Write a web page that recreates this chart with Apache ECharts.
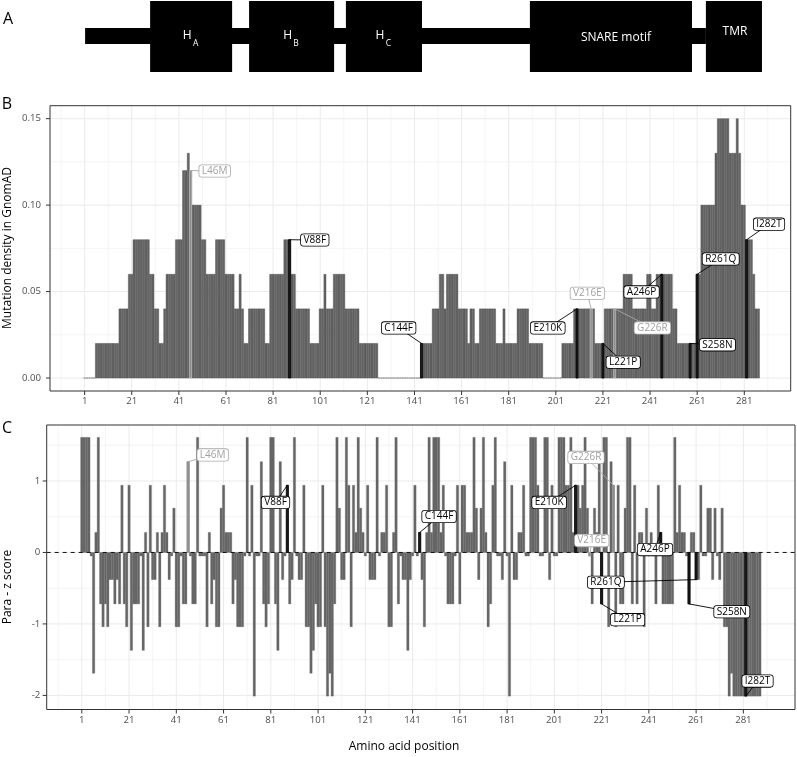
<!DOCTYPE html>
<html>
<head>
<meta charset="utf-8">
<script src="https://cdn.jsdelivr.net/npm/echarts@6/dist/echarts.min.js"></script>
<style>
html,body{margin:0;padding:0;background:#ffffff;}
#chart{width:797px;height:757px;}
</style>
</head>
<body>
<div id="chart"></div>
<script>
// ================= DATA =================
// Panel B: mutation density in GnomAD, amino acid positions 1..287 (rows of 10)
const densityB = [
  0,0,0,0,0,0.02,0.02,0.02,0.02,0.02,
  0.02,0.02,0.02,0.02,0.02,0.04,0.04,0.04,0.04,0.06,
  0.06,0.08,0.08,0.08,0.08,0.08,0.08,0.08,0.06,0.06,
  0.04,0.04,0.02,0.02,0.04,0.06,0.06,0.06,0.06,0.08,
  0.08,0.08,0.12,0.12,0.13,0.12,0.10,0.10,0.10,0.10,
  0.08,0.08,0.06,0.06,0.06,0.06,0.08,0.08,0.08,0.08,
  0.06,0.06,0.06,0.06,0.04,0.04,0.06,0.04,0.02,0.02,
  0.04,0.04,0.04,0.04,0.04,0.04,0.04,0.02,0.02,0.06,
  0.06,0.06,0.06,0.06,0.06,0.08,0.08,0.08,0.06,0.06,
  0.04,0.04,0.04,0.04,0.04,0.04,0.02,0.02,0.02,0.02,
  0.04,0.04,0.06,0.04,0.04,0.04,0.06,0.06,0.06,0.06,
  0.06,0.04,0.04,0.04,0.04,0.04,0.04,0.02,0.02,0.02,
  0.02,0.02,0.02,0.02,0.02,0,0,0,0,0,
  0,0,0,0,0,0,0,0,0,0,
  0,0,0,0.02,0.02,0.02,0.02,0.02,0.04,0.04,
  0.04,0.06,0.06,0.04,0.06,0.06,0.06,0.06,0.06,0.04,
  0.04,0.04,0.04,0.02,0.04,0.04,0.02,0.02,0.04,0.04,
  0.04,0.04,0.04,0.04,0.04,0.02,0.02,0.02,0.04,0.02,
  0.02,0.02,0.02,0.02,0.04,0.04,0.04,0.04,0.04,0.02,
  0.02,0.02,0.02,0.02,0.02,0,0,0,0,0,
  0,0,0,0.02,0.02,0.02,0.02,0.02,0.04,0.04,
  0.04,0.04,0.04,0.04,0.04,0.04,0.04,0.02,0.02,0.02,
  0.02,0.04,0.04,0.04,0.04,0.04,0.04,0.04,0.04,0.06,
  0.06,0.06,0.06,0.04,0.04,0.04,0.04,0.04,0.04,0.06,
  0.06,0.04,0.04,0.06,0.06,0.06,0.06,0.06,0.06,0.06,
  0.04,0.04,0.02,0.02,0.02,0.02,0.02,0.02,0.02,0.02,
  0.06,0.06,0.10,0.10,0.10,0.10,0.10,0.10,0.13,0.15,
  0.15,0.15,0.15,0.15,0.13,0.13,0.13,0.15,0.13,0.10,
  0.10,0.08,0.08,0.08,0.06,0.04,0.04
];

// Panel C: Para-z score, positions 1..288 (rows of 10)
const zScoreC = [
  1.61,1.61,1.61,1.61,-0.05,-1.69,0.28,1.61,-0.72,-1.04,
  -0.72,-1.04,-0.38,-0.38,-0.72,-0.38,-0.72,0.94,-0.72,-1.04,
  0.94,-1.37,-0.72,-0.72,-0.72,-0.05,-1.37,0.28,-1.04,0.94,
  -0.38,-0.38,0.28,-1.04,0.28,0.94,0.28,-0.38,-0.05,0.62,
  -1.04,-1.04,-0.05,-0.72,-0.72,1.27,-0.05,-0.72,-0.72,1.61,
  -0.05,-0.05,-0.05,-1.04,0.28,-0.72,-0.38,-1.04,-1.04,0.62,
  0.94,0.28,0.28,0.28,-0.72,-0.38,-1.04,-1.04,-1.04,-0.05,
  1.61,-0.05,0.94,-2.01,-0.05,-0.05,1.27,-0.72,-1.04,-0.72,
  1.61,1.61,-0.72,-1.37,1.27,-0.38,-0.05,0.94,-0.72,-0.38,
  1.61,-0.05,-0.38,-0.38,0.94,-1.04,-1.04,-1.69,-1.37,-0.72,
  -1.04,-1.04,0.94,-1.04,-2.01,-1.69,-2.01,-0.72,1.61,0.62,
  -0.38,-0.38,1.61,0.94,-1.04,0.94,0.28,1.61,0.62,0.28,
  -0.05,0.94,-0.38,-0.38,-0.38,1.61,-0.05,0.28,0.28,0.94,
  -1.04,-1.04,0.28,1.61,-0.72,-0.05,-0.38,-0.38,-1.37,-0.38,
  -0.05,0.94,-0.05,0.28,-0.38,-1.04,0.28,1.61,0.28,1.61,
  1.61,1.61,0.28,0.94,-0.05,-0.72,-0.72,-0.72,-0.05,0.94,
  -0.72,0.94,0.94,0.28,0.28,0.28,1.61,0.62,-0.38,0.62,
  1.61,0.28,-1.04,-0.72,0.94,1.61,-0.05,-0.05,-0.38,1.27,
  -0.05,-2.01,0.94,-0.38,-0.38,0.28,0.28,0.94,-0.05,-0.05,
  1.61,1.61,1.61,0.94,-0.05,-0.05,1.61,1.61,-0.38,0.94,
  -0.05,-0.05,1.61,1.61,1.61,0.94,0.94,1.61,0.28,0.94,
  0.94,0.62,0.94,1.61,0.62,-0.05,-0.72,0.62,0.28,1.27,
  -0.72,1.61,1.61,-1.04,1.27,0.94,-1.04,0.94,-0.72,-0.72,
  0.62,1.61,1.61,-0.72,0.94,-0.72,0.28,0.28,-1.04,0.62,
  -0.05,0.28,-0.05,-0.72,0.94,0.28,-0.72,-0.72,-0.72,-0.72,
  -0.72,1.61,0.28,0.94,0.28,0.28,-0.05,-0.72,0.28,0.28,
  -0.38,-0.38,0.94,-0.05,-0.05,0.62,0.62,-0.38,0.62,-0.05,
  -0.38,0.62,-1.04,-1.04,-2.01,-1.69,-2.01,-2.01,-2.01,-2.01,
  -2.01,-2.01,-2.01,-2.01,-2.01,-2.01,-2.01,-2.01
];

// Axis ticks
const xTickValues = [1,21,41,61,81,101,121,141,161,181,201,221,241,261,281];
const xTickLabels = ['1','21','41','61','81','101','121','141','161','181','201','221','241','261','281'];
const xMinorValues = [-9,11,31,51,71,91,111,131,151,171,191,211,231,251,271,291];
const yTickValuesB = [0, 0.05, 0.10, 0.15];
const yTickLabelsB = ['0.00','0.05','0.10','0.15'];
const yMinorValuesB = [0.025, 0.075, 0.125];
const yTickValuesC = [-2, -1, 0, 1];
const yTickLabelsC = ['-2','-1','0','1'];
const yMinorValuesC = [-1.5, -0.5, 0.5, 1.5];

// Highlighted variants
const variantNames = ['L46M','V88F','C144F','E210K','V216E','L221P','G226R','A246P','S258N','R261Q','I282T'];
const variantPos   = [46, 88, 144, 210, 216, 221, 226, 246, 258, 261, 282];
const variantGrey  = [true,false,false,false,true,false,true,false,false,false,false];
// label anchor positions (data coordinates) in panel B and C
const labelBx = [56.2, 98.7, 134.3, 197.6, 214.4, 229.6, 242.0, 237.4, 269.6, 271.0, 291.5];
const labelBy = [0.1197, 0.0798, 0.029, 0.029, 0.049, 0.0091, 0.029, 0.0498, 0.0192, 0.0688, 0.089];
const labelCx = [56.4, 83.0, 152.2, 198.8, 216.8, 232.0, 214.4, 243.6, 276.1, 222.8, 287.0];
const labelCy = [1.365, 0.70, 0.503, 0.70, 0.166, -0.94, 1.33, 0.04, -0.83, -0.416, -1.80];

// Panel A: domains (amino acid boundaries)
const domainNames = ['H', 'H', 'H', 'SNARE motif', 'TMR'];
const domainSubscripts = ['A', 'B', 'C', '', ''];
const domainStart = [28.8, 70.8, 111.9, 190.0, 264.7];
const domainEnd   = [63.6, 106.9, 144.2, 258.8, 288.5];
const backboneStart = 1.2;
const backboneEnd = 264.7;

// ================= LAYOUT =================
const FONT = '"Open Sans", "Noto Sans", sans-serif';
const grids = [
  {left: 50, top: 1, width: 740.7, height: 71},
  {left: 50, top: 105.7, width: 740.7, height: 285.3},
  {left: 46.7, top: 425, width: 748.3, height: 284.5}
];
const xRanges = [[-13.7, 300.7], [-13.7, 300.7], [-13.85, 302.85]];
const yRanges = [[0, 1], [-0.0075, 0.1575], [-2.197, 1.783]];

function txt(x, y, text, size, fill, align, valign, extra) {
  const st = Object.assign({
    text: text, fill: fill, font: size + 'px ' + FONT,
    align: align, verticalAlign: valign,
    textAlign: align, textVerticalAlign: valign
  }, extra || {});
  return {type: 'text', x: x, y: y, style: st};
}

// grid lines (under bars)
function gridLinesSeries(gi, xMaj, xMin, yMaj, yMin) {
  const items = [];
  xMaj.forEach(v => items.push({k: 'x', v: v, w: 1}));
  xMin.forEach(v => items.push({k: 'x', v: v, w: 0.55}));
  yMaj.forEach(v => items.push({k: 'y', v: v, w: 1}));
  yMin.forEach(v => items.push({k: 'y', v: v, w: 0.55}));
  return {
    type: 'custom', xAxisIndex: gi, yAxisIndex: gi, silent: true, z: 1,
    data: items.map(() => [0, 0]),
    renderItem: function (params, api) {
      const it = items[params.dataIndex];
      const cs = params.coordSys;
      if (it.k === 'x') {
        const x = api.coord([it.v, 0])[0];
        if (x < cs.x || x > cs.x + cs.width) return null;
        return {type: 'line', shape: {x1: x, y1: cs.y, x2: x, y2: cs.y + cs.height},
                style: {stroke: '#ebebeb', lineWidth: it.w}};
      }
      const y = api.coord([0, it.v])[1];
      return {type: 'line', shape: {x1: cs.x, y1: y, x2: cs.x + cs.width, y2: y},
              style: {stroke: '#ebebeb', lineWidth: it.w}};
    }
  };
}

// ticks, tick labels and panel border (on top)
function axisMarksSeries(gi, xv, xl, yv, yl, yGap) {
  const items = [];
  xv.forEach((v, i) => items.push({k: 'x', v: v, t: xl[i]}));
  yv.forEach((v, i) => items.push({k: 'y', v: v, t: yl[i]}));
  items.push({k: 'border'});
  return {
    type: 'custom', xAxisIndex: gi, yAxisIndex: gi, silent: true, z: 8, clip: false,
    data: items.map(() => [0, 0]),
    renderItem: function (params, api) {
      const it = items[params.dataIndex];
      const cs = params.coordSys;
      if (it.k === 'border') {
        return {type: 'rect', shape: {x: cs.x, y: cs.y, width: cs.width, height: cs.height},
                style: {fill: 'none', stroke: '#333333', lineWidth: 1}};
      }
      if (it.k === 'x') {
        const x = api.coord([it.v, 0])[0];
        const b = cs.y + cs.height;
        return {type: 'group', children: [
          {type: 'line', shape: {x1: x, y1: b, x2: x, y2: b + 4}, style: {stroke: '#333333', lineWidth: 1}},
          txt(x, b + 5.5, it.t, 9.6, '#4d4d4d', 'center', 'top')
        ]};
      }
      const y = api.coord([0, it.v])[1];
      return {type: 'group', children: [
        {type: 'line', shape: {x1: cs.x - 4, y1: y, x2: cs.x, y2: y}, style: {stroke: '#333333', lineWidth: 1}},
        txt(cs.x - yGap, y, it.t, 9.6, '#4d4d4d', 'right', 'middle')
      ]};
    }
  };
}

function barsSeries(gi, values, halfW, fill, stroke, lw) {
  return {
    type: 'custom', xAxisIndex: gi, yAxisIndex: gi, silent: true, z: 3,
    data: values.map((v, i) => [i + 1, v]),
    renderItem: function (params, api) {
      const p = api.value(0), v = api.value(1);
      const a = api.coord([p - halfW, v]);
      const b = api.coord([p + halfW, 0]);
      const style = {fill: fill};
      if (stroke) { style.stroke = stroke; style.lineWidth = lw; }
      return {type: 'rect', shape: {x: a[0], y: Math.min(a[1], b[1]), width: b[0] - a[0], height: Math.abs(b[1] - a[1])}, style: style};
    }
  };
}

function highlightSeries(gi, values, greyFill, greyStroke, blackFill) {
  return {
    type: 'custom', xAxisIndex: gi, yAxisIndex: gi, silent: true, z: 4,
    data: variantPos.map(p => [p, values[p - 1]]),
    renderItem: function (params, api) {
      const i = params.dataIndex;
      const p = api.value(0), v = api.value(1);
      const a = api.coord([p - 0.45, v]);
      const b = api.coord([p + 0.45, 0]);
      const g = variantGrey[i];
      return {type: 'rect', shape: {x: a[0], y: Math.min(a[1], b[1]), width: b[0] - a[0], height: Math.abs(b[1] - a[1])},
              style: {fill: g ? greyFill : blackFill, stroke: g ? greyStroke : '#000000', lineWidth: 0.7}};
    }
  };
}

function labelsSeries(gi, values, lx, ly) {
  return {
    type: 'custom', xAxisIndex: gi, yAxisIndex: gi, silent: true, z: 7, clip: false,
    data: variantNames.map(() => [0, 0]),
    renderItem: function (params, api) {
      const i = params.dataIndex;
      const p = variantPos[i];
      const a = api.coord([p, values[p - 1]]);
      const c = api.coord([lx[i], ly[i]]);
      const col = variantGrey[i] ? '#a8a8a8' : '#000000';
      const tcol = variantGrey[i] ? '#a0a0a0' : '#000000';
      return {type: 'group', children: [
        {type: 'line', shape: {x1: a[0], y1: a[1], x2: c[0], y2: c[1]}, style: {stroke: col, lineWidth: 0.9}},
        txt(c[0], c[1], variantNames[i], 10, tcol, 'center', 'middle', {
          backgroundColor: '#ffffff', borderColor: col, borderWidth: 0.8, borderRadius: 2.5,
          padding: [1, 2.5, 0.5, 2.5]
        })
      ]};
    }
  };
}

const zeroLineSeries = {
  type: 'custom', xAxisIndex: 2, yAxisIndex: 2, silent: true, z: 5,
  data: [[0, 0]],
  renderItem: function (params, api) {
    const cs = params.coordSys;
    const y = api.coord([0, 0])[1];
    return {type: 'line', shape: {x1: cs.x, y1: y, x2: cs.x + cs.width, y2: y},
            style: {stroke: '#111111', lineWidth: 1, lineDash: [4, 4]}};
  }
};

const domainSeries = {
  type: 'custom', xAxisIndex: 0, yAxisIndex: 0, silent: true, z: 3, clip: false,
  data: [[0, 0]].concat(domainNames.map(() => [0, 0])),
  renderItem: function (params, api) {
    const i = params.dataIndex;
    if (i === 0) {
      const x1 = api.coord([backboneStart, 0])[0], x2 = api.coord([backboneEnd, 0])[0];
      const y1 = api.coord([0, 0.62])[1], y2 = api.coord([0, 0.394])[1];
      return {type: 'rect', shape: {x: x1, y: y1, width: x2 - x1, height: y2 - y1}, style: {fill: '#000000'}};
    }
    const d = i - 1;
    const x1 = api.coord([domainStart[d], 1])[0], x2 = api.coord([domainEnd[d], 1])[0];
    const top = api.coord([0, 1])[1], bot = api.coord([0, 0])[1];
    const cx = (x1 + x2) / 2;
    const children = [{type: 'rect', shape: {x: x1, y: top, width: x2 - x1, height: bot - top}, style: {fill: '#000000'}}];
    if (domainSubscripts[d]) {
      children.push(txt(cx - 4, top + 35, domainNames[d], 12, '#ffffff', 'center', 'middle'));
      children.push(txt(cx + 4.5, top + 42.5, domainSubscripts[d], 8.5, '#ffffff', 'center', 'middle'));
    } else if (d === 3) {
      children.push(txt(cx + 5, top + 37, domainNames[d], 12, '#ffffff', 'center', 'middle'));
    } else {
      children.push(txt(cx + 1, top + 31, domainNames[d], 12, '#ffffff', 'center', 'middle'));
    }
    return {type: 'group', children: children};
  }
};

const chart = echarts.init(document.getElementById('chart'), null, {renderer: 'canvas', width: 797, height: 757});

const option = {
  animation: false,
  backgroundColor: '#ffffff',
  grid: grids.map(g => Object.assign({containLabel: false, show: false}, g)),
  xAxis: grids.map((g, i) => ({gridIndex: i, type: 'value', min: xRanges[i][0], max: xRanges[i][1], show: false})),
  yAxis: grids.map((g, i) => ({gridIndex: i, type: 'value', min: yRanges[i][0], max: yRanges[i][1], show: false})),
  graphic: [
    txt(8, 19, 'A', 16, '#000000', 'center', 'middle'),
    txt(7, 104, 'B', 16, '#000000', 'center', 'middle'),
    txt(7, 428, 'C', 16, '#000000', 'center', 'middle'),
    Object.assign(txt(8, 248, 'Mutation density in GnomAD', 12, '#000000', 'center', 'middle'), {rotation: Math.PI / 2}),
    Object.assign(txt(8, 587, 'Para - z score', 12, '#000000', 'center', 'middle'), {rotation: Math.PI / 2}),
    txt(404, 747, 'Amino acid position', 12, '#000000', 'center', 'middle')
  ],
  series: [
    domainSeries,
    gridLinesSeries(1, xTickValues, xMinorValues, yTickValuesB, yMinorValuesB),
    gridLinesSeries(2, xTickValues, xMinorValues, yTickValuesC, yMinorValuesC),
    barsSeries(1, densityB, 0.45, '#656565', '#4a4a4a', 0.4),
    barsSeries(2, zScoreC, 0.5, '#666666', '#666666', 0.3),
    highlightSeries(1, densityB, '#8c8c8c', '#c4c4c4', '#1a1a1a'),
    highlightSeries(2, zScoreC, '#8c8c8c', '#a0a0a0', '#1a1a1a'),
    zeroLineSeries,
    labelsSeries(1, densityB, labelBx, labelBy),
    labelsSeries(2, zScoreC, labelCx, labelCy),
    axisMarksSeries(1, xTickValues, xTickLabels, yTickValuesB, yTickLabelsB, 9),
    axisMarksSeries(2, xTickValues, xTickLabels, yTickValuesC, yTickLabelsC, 6.5)
  ]
};
chart.setOption(option);
</script>
</body>
</html>
